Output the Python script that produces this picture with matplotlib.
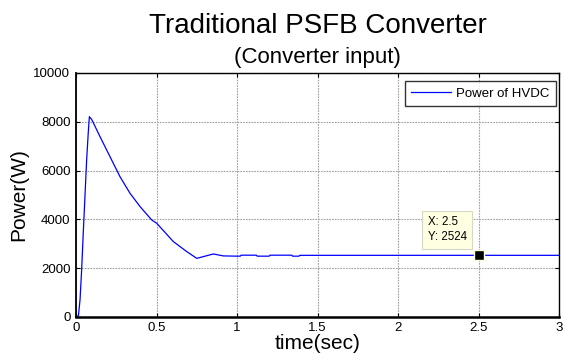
import matplotlib
matplotlib.use("Agg")
import matplotlib.pyplot as plt
import numpy as np

plt.rcParams['font.family'] = ['Liberation Sans', 'DejaVu Sans']

time_s = [0.0, 0.015, 0.025, 0.035, 0.045, 0.056, 0.066, 0.076, 0.083, 0.09, 0.097,
          0.149, 0.211, 0.273, 0.335, 0.398, 0.47, 0.501, 0.604, 0.687, 0.75, 0.79,
          0.853, 0.915, 1.0, 1.02, 1.025, 1.12, 1.125, 1.20, 1.205, 1.34, 1.345,
          1.385, 1.39, 3.0]
power_w = [0, 50, 700, 1930, 3440, 5000, 6430, 7540, 8209, 8150, 8100,
           7390, 6570, 5750, 5070, 4520, 3975, 3840, 3090, 2680, 2400, 2470,
           2580, 2500, 2490, 2490, 2530, 2530, 2490, 2490, 2530, 2530, 2490,
           2490, 2524, 2524]

tip_x = 2.5
tip_y = 2524

fig = plt.figure(figsize=(5.63, 3.63), dpi=100)
ax = fig.add_axes([0.135, 0.127, 0.858, 0.672])
ax.plot(time_s, power_w, color='#0000ff', lw=0.9, label='Power of HVDC')
ax.set_xlim(0, 3)
ax.set_ylim(0, 10000)
ax.set_xticks([0, 0.5, 1, 1.5, 2, 2.5, 3])
ax.set_xticklabels(['0', '0.5', '1', '1.5', '2', '2.5', '3'])
ax.set_yticks([0, 2000, 4000, 6000, 8000, 10000])
ax.tick_params(direction='in', top=True, right=True, labelsize=9.5, length=3, pad=4)
ax.grid(True, color='#a0a0a0', linestyle=(0, (1.5, 1)), lw=0.8)
for s in ax.spines.values():
    s.set_linewidth(1.0)
ax.spines['bottom'].set_linewidth(1.8)
ax.spines['left'].set_linewidth(1.3)
ax.set_xlabel('time(sec)', fontsize=15, labelpad=0)
ax.set_ylabel('Power(W)', fontsize=15, labelpad=4)

cx = (0.135 + 0.135 + 0.858) / 2
fig.text(cx, 1 - 33 / 363, 'Traditional PSFB Converter', ha='center', va='baseline', fontsize=20)
fig.text(cx, 1 - 63 / 363, '(Converter input)', ha='center', va='baseline', fontsize=16)

leg = ax.legend(loc='upper right', bbox_to_anchor=(0.9938, 0.967), fontsize=9.5,
                frameon=True, fancybox=False, edgecolor='black', handlelength=3.0,
                handletextpad=0.4, borderaxespad=0, borderpad=0.5)
leg.get_frame().set_linewidth(1.0)

ax.plot([tip_x], [tip_y], marker='s', color='black', markersize=6.5,
        markeredgecolor='#ffffe1', markeredgewidth=1, zorder=5)
ax.annotate('X: %g\nY: %d' % (tip_x, tip_y), xy=(tip_x, tip_y),
            xytext=(-51, 12), textcoords='offset pixels', fontsize=8.3,
            ha='left', va='bottom', linespacing=1.4,
            bbox=dict(boxstyle='square,pad=0.45', fc='#ffffe1', ec='#d8d8c8', lw=0.8))

fig.savefig('out.png', dpi=100)
